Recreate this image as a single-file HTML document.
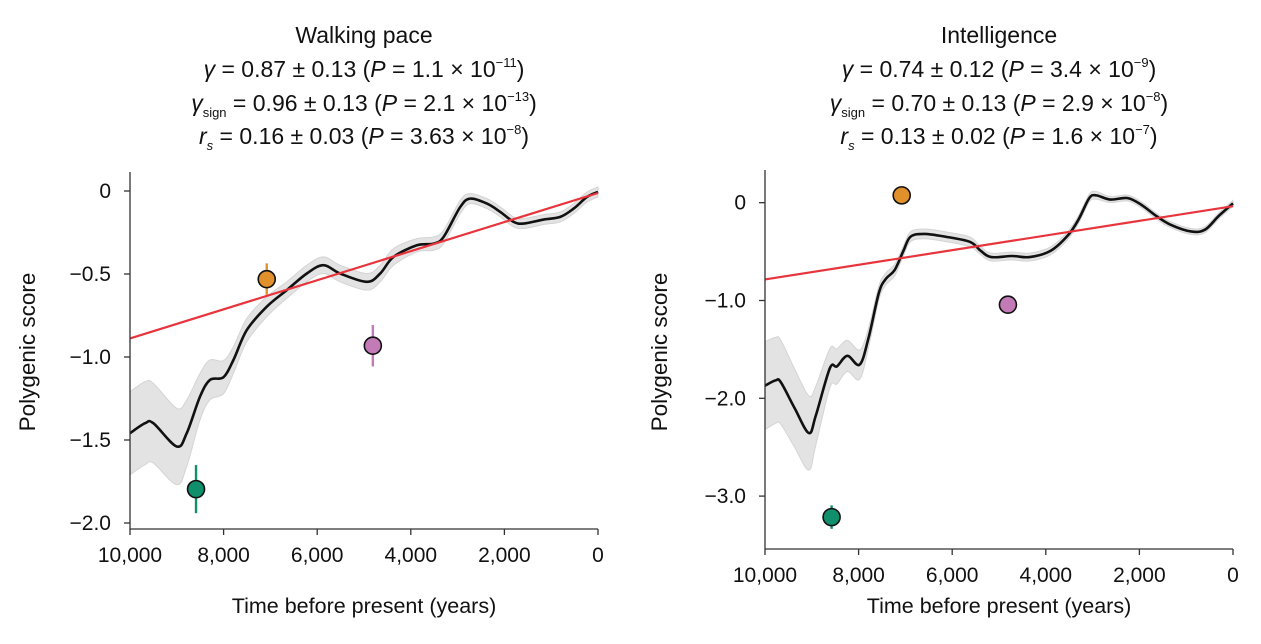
<!DOCTYPE html>
<html><head><meta charset="utf-8">
<style>
body{margin:0;background:#fff;width:1261px;height:644px;overflow:hidden;font-family:"Liberation Sans",sans-serif;color:#111}
.t{position:absolute;width:560px;text-align:center;font-size:23px;line-height:23px}
sup{font-size:13px;vertical-align:10px;line-height:0}
sub{font-size:13px;vertical-align:-6px;line-height:0}
svg{position:absolute;left:0;top:0}
</style></head><body>
<div class="t" style="left:84px;top:24px">Walking pace</div>
<div class="t" style="left:84px;top:58px"><i>γ</i> = 0.87 ± 0.13 (<i>P</i> = 1.1 × 10<sup>−11</sup>)</div>
<div class="t" style="left:84px;top:92px"><i>γ</i><sub>sign</sub> = 0.96 ± 0.13 (<i>P</i> = 2.1 × 10<sup>−13</sup>)</div>
<div class="t" style="left:84px;top:125px"><i>r<sub>s</sub></i> = 0.16 ± 0.03 (<i>P</i> = 3.63 × 10<sup>−8</sup>)</div>
<div class="t" style="left:719px;top:24px">Intelligence</div>
<div class="t" style="left:719px;top:58px"><i>γ</i> = 0.74 ± 0.12 (<i>P</i> = 3.4 × 10<sup>−9</sup>)</div>
<div class="t" style="left:719px;top:92px"><i>γ</i><sub>sign</sub> = 0.70 ± 0.13 (<i>P</i> = 2.9 × 10<sup>−8</sup>)</div>
<div class="t" style="left:719px;top:125px"><i>r<sub>s</sub></i> = 0.13 ± 0.02 (<i>P</i> = 1.6 × 10<sup>−7</sup>)</div>
<svg id="chart" width="1261" height="644" xmlns="http://www.w3.org/2000/svg"></svg>
<script>
const xTicks=[10000,8000,6000,4000,2000,0];
const xTickLabels=["10,000","8,000","6,000","4,000","2,000","0"];
// Walking pace
const wpTime=[10000,9679,9501,9002,8788,8503,8290,8004,7790,7505,7078,6650,6222,5866,5510,4939,4654,4369,3870,3514,3300,2943,2730,2373,2088,1803,1589,1162,805,520,235,0];
const wpMean=[-1.459,-1.399,-1.399,-1.539,-1.459,-1.238,-1.138,-1.122,-1.018,-0.838,-0.697,-0.597,-0.497,-0.447,-0.497,-0.547,-0.497,-0.397,-0.327,-0.317,-0.277,-0.096,-0.046,-0.076,-0.126,-0.186,-0.196,-0.172,-0.156,-0.106,-0.036,-0.006];
const wpBand=[0.25,0.25,0.24,0.23,0.2,0.14,0.12,0.1,0.08,0.07,0.06,0.05,0.05,0.05,0.05,0.05,0.05,0.05,0.04,0.04,0.04,0.04,0.03,0.03,0.03,0.03,0.03,0.03,0.03,0.03,0.03,0.03];
const wpFit=[-0.888,-0.012];
const wpPointTime=[8589,7078,4811];
const wpPointVal=[-1.796,-0.531,-0.932];
const wpPointErr=[0.145,0.095,0.125];
const wpYTicks=[0,-0.5,-1.0,-1.5,-2.0];
const wpYLabels=["0","−0.5","−1.0","−1.5","−2.0"];
// Intelligence
const inTime=[10000,9775,9663,9363,9064,8914,8614,8464,8240,7978,7790,7566,7416,7228,7041,6891,6592,6142,5618,5393,5169,4719,4345,3895,3521,3296,3071,2921,2622,2247,1948,1648,1348,899,599,300,0];
const inMean=[-1.871,-1.817,-1.835,-2.104,-2.355,-2.176,-1.692,-1.674,-1.566,-1.656,-1.387,-0.921,-0.778,-0.688,-0.491,-0.348,-0.319,-0.348,-0.401,-0.491,-0.556,-0.545,-0.556,-0.491,-0.330,-0.168,0.047,0.075,0.032,0.047,-0.025,-0.133,-0.222,-0.294,-0.276,-0.133,-0.007];
const inBand=[0.45,0.44,0.43,0.4,0.38,0.3,0.2,0.18,0.16,0.15,0.1,0.07,0.06,0.06,0.05,0.05,0.05,0.05,0.05,0.04,0.04,0.04,0.04,0.04,0.04,0.04,0.04,0.04,0.03,0.03,0.03,0.03,0.03,0.03,0.03,0.03,0.03];
const inFit=[-0.785,-0.036];
const inPointTime=[8577,7079,4809];
const inPointVal=[-3.215,0.075,-1.043];
const inPointErr=[0.12,0.03,0.06];
const inYTicks=[0,-1.0,-2.0,-3.0];
const inYLabels=["0","−1.0","−2.0","−3.0"];
const colors=["#0f8f6c","#e0912c","#c37bb8"];
const names=["green","orange","purple"];

const NS="http://www.w3.org/2000/svg";
const svg=document.getElementById('chart');
function mk(tag,attrs,parent){const e=document.createElementNS(NS,tag);for(const k in attrs)e.setAttribute(k,attrs[k]);(parent||svg).appendChild(e);return e;}
function smooth(pts){let d="M"+pts[0][0]+","+pts[0][1];for(let i=0;i<pts.length-1;i++){const p0=pts[Math.max(i-1,0)],p1=pts[i],p2=pts[i+1],p3=pts[Math.min(i+2,pts.length-1)];const c1=[p1[0]+(p2[0]-p0[0])/6,p1[1]+(p2[1]-p0[1])/6],c2=[p2[0]-(p3[0]-p1[0])/6,p2[1]-(p3[1]-p1[1])/6];d+=" C"+c1[0]+","+c1[1]+" "+c2[0]+","+c2[1]+" "+p2[0]+","+p2[1];}return d;}
function panel(o){
  const sx=t=>o.x0+(10000-t)/10000*(o.x1-o.x0);
  const sy=v=>o.yZero-v*o.yScale;
  const g=mk('g',{});
  
  
  const up=o.time.map((t,i)=>[sx(t),sy(o.mean[i]+o.band[i])]);
  const lo=o.time.map((t,i)=>[sx(t),sy(o.mean[i]-o.band[i])]).reverse();
  const band=mk('path',{d:smooth(up)+" L"+lo[0][0]+","+lo[0][1]+smooth(lo).replace(/^M[^C]*/," ")+" Z",fill:"#e3e3e3",stroke:"#d4d4d4","stroke-width":1},g);
  
  
  const line=mk('path',{d:smooth(o.time.map((t,i)=>[sx(t),sy(o.mean[i])])),fill:"none",stroke:"#111","stroke-width":2.6},g);
  
  
  const fit=mk('line',{x1:sx(10000),y1:sy(o.fit[0]),x2:sx(0),y2:sy(o.fit[1]),stroke:"#e8343c","stroke-width":2.2},g);
  
  
  o.pt.forEach((t,i)=>{
    const eb=mk('line',{x1:sx(t),x2:sx(t),y1:sy(o.pv[i]+o.pe[i]),y2:sy(o.pv[i]-o.pe[i]),stroke:colors[i],"stroke-width":2.4},g);
    
    
    const c=mk('circle',{cx:sx(t),cy:sy(o.pv[i]),r:8.5,fill:colors[i],stroke:"#111","stroke-width":1.6},g);
    
    
  });
  const ax=mk('path',{d:`M${o.x0},${o.yTop} V${o.yAxis} H${o.x1}`,fill:"none",stroke:"#333","stroke-width":1.3},g);
  
  
  xTicks.forEach((t,i)=>{
    mk('line',{x1:sx(t),x2:sx(t),y1:o.yAxis,y2:o.yAxis+6,stroke:"#333","stroke-width":1.3},g);
    const tx=mk('text',{x:sx(t),y:o.yAxis+33,"text-anchor":"middle","font-size":21,fill:"#111"},g);
    tx.textContent=xTickLabels[i];
    
    
  });
  o.yTicks.forEach((v,i)=>{
    mk('line',{x1:o.x0-6,x2:o.x0,y1:sy(v),y2:sy(v),stroke:"#333","stroke-width":1.3},g);
    const tx=mk('text',{x:o.x0-19,y:sy(v)+7,"text-anchor":"end","font-size":21,fill:"#111"},g);
    tx.textContent=o.yLabels[i];
    
    
  });
  const xt=mk('text',{x:(o.x0+o.x1)/2,y:613,"text-anchor":"middle","font-size":21.5,fill:"#111"},g);
  xt.textContent="Time before present (years)";
  
  
  const yt=mk('text',{x:0,y:0,"text-anchor":"middle","font-size":22.5,fill:"#111",transform:`translate(${o.yTitleX},${o.yTitleY}) rotate(-90)`},g);
  yt.textContent="Polygenic score";
  
  
}
panel({id:"walking-pace",x0:130,x1:598,yZero:191,yScale:166,yTop:172,yAxis:529,time:wpTime,mean:wpMean,band:wpBand,fit:wpFit,pt:wpPointTime,pv:wpPointVal,pe:wpPointErr,yTicks:wpYTicks,yLabels:wpYLabels,yTitleX:35,yTitleY:352});
panel({id:"intelligence",x0:765,x1:1233,yZero:202.7,yScale:97.8,yTop:170,yAxis:549,time:inTime,mean:inMean,band:inBand,fit:inFit,pt:inPointTime,pv:inPointVal,pe:inPointErr,yTicks:inYTicks,yLabels:inYLabels,yTitleX:667,yTitleY:352});
</script>
</body></html>
